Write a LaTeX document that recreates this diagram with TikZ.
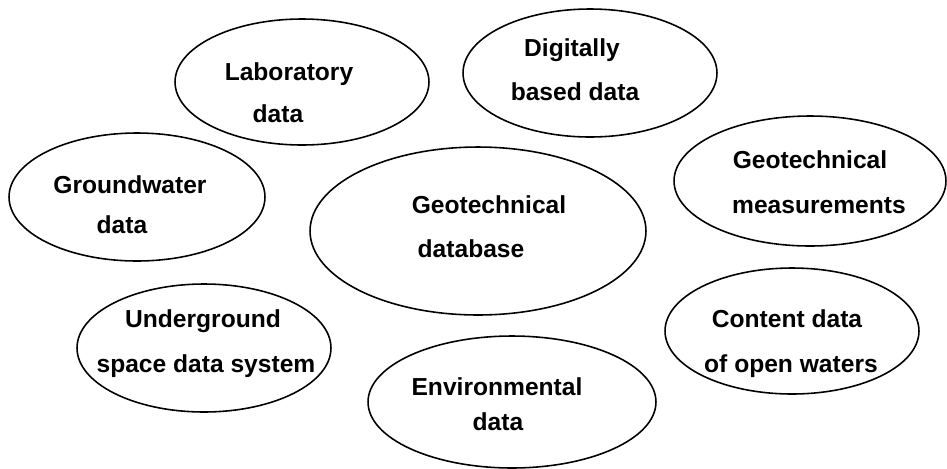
\documentclass[tikz,border=0pt]{standalone}
\usepackage{fontspec}
\setmainfont{Liberation Sans}
\usetikzlibrary{shapes.geometric}

\begin{document}
\begin{tikzpicture}[x=0.02cm,y=-0.02cm,
  blob/.style={ellipse,draw,line width=0.9pt,inner sep=0pt},
  word/.style={anchor=base,inner sep=0pt,font=\fontsize{14pt}{17pt}\selectfont\bfseries}]

\useasboundingbox (0,0) rectangle (947,468);

% the ellipses
\node[blob,minimum width=5.08cm,minimum height=2.52cm] (lab)  at (302,82)  {};
\node[blob,minimum width=5.08cm,minimum height=2.56cm] (dig)  at (590,73)  {};
\node[blob,minimum width=5.12cm,minimum height=2.56cm] (gw)   at (137,197) {};
\node[blob,minimum width=6.72cm,minimum height=3.36cm] (db)   at (478,231) {};
\node[blob,minimum width=5.44cm,minimum height=2.60cm] (meas) at (810,181) {};
\node[blob,minimum width=5.08cm,minimum height=2.56cm] (ug)   at (204,348) {};
\node[blob,minimum width=5.08cm,minimum height=2.52cm] (cont) at (792,331) {};
\node[blob,minimum width=5.76cm,minimum height=2.64cm] (env)  at (512,402) {};

% the words, one line each
\node[word] (lab1)  at (289,80)  {Laboratory};
\node[word] (lab2)  at (278,122) {data};
\node[word] (dig1)  at (572,56)  {Digitally};
\node[word] (dig2)  at (575,100) {based data};
\node[word] (gw1)   at (130,193) {Groundwater};
\node[word] (gw2)   at (122,233) {data};
\node[word] (db1)   at (489,213) {Geotechnical};
\node[word] (db2)   at (471,257) {database};
\node[word] (meas1) at (810,168) {Geotechnical};
\node[word] (meas2) at (819,213) {measurements};
\node[word] (ug1)   at (203,327) {Underground};
\node[word] (ug2)   at (206,372) {space data system};
\node[word] (cont1) at (787,327) {Content data};
\node[word] (cont2) at (791,372) {of open waters};
\node[word] (env1)  at (497,395) {Environmental};
\node[word] (env2)  at (498,430) {data};

\end{tikzpicture}
\end{document}
